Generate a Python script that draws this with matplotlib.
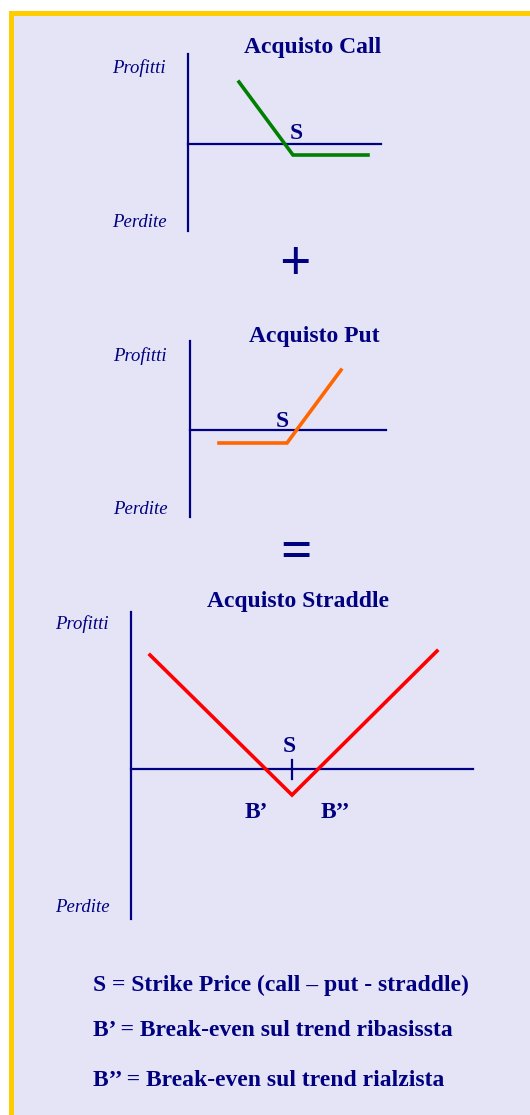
import matplotlib
matplotlib.use("Agg")
import matplotlib.pyplot as plt
from matplotlib.patches import Rectangle

# payoff data (arbitrary price / profit units, origin = axes crossing)
call_price = [51, 105, 180]
call_payoff = [62, -11, -11]
put_price = [29, 97, 151]
put_payoff = [-13, -13, 60]
straddle_price = [19, 161, 306]
straddle_payoff = [114, -26, 118]
strike_straddle = 161

titles = ["Acquisto Call", "Acquisto Put", "Acquisto Straddle"]
legend_lines = ["S = Strike Price (call \u2013 put - straddle)",
                "B\u2019 = Break-even sul trend ribasissta",
                "B\u2019\u2019 = Break-even sul trend rialzista"]

NAVY = "#000080"
BG = "#E4E4F6"
YELLOW = "#FFCC00"
W, H = 530, 1115

plt.rcParams["font.family"] = ["Liberation Serif", "DejaVu Serif"]

fig = plt.figure(figsize=(W / 100, H / 100), dpi=100)
fig.patch.set_facecolor("white")

# background axes in pixel coordinates
bg = fig.add_axes([0, 0, 1, 1])
bg.set_xlim(0, W)
bg.set_ylim(H, 0)
bg.axis("off")
bg.add_patch(Rectangle((10.5, 12.5), 600, 1200, facecolor=BG,
                       edgecolor=YELLOW, lw=3.6))


def panel(box, xlim, ylim):
    l, t, r, b = box
    ax = fig.add_axes([l / W, 1 - b / H, (r - l) / W, (b - t) / H])
    ax.set_xlim(*xlim)
    ax.set_ylim(*ylim)
    ax.axis("off")
    ax.axvline(0, color=NAVY, lw=1.6, clip_on=False)
    ax.axhline(0, color=NAVY, lw=1.6, clip_on=False)
    return ax


def bold(x, y, s, **kw):
    bg.text(x, y, s, color=NAVY, fontsize=17, fontweight="bold",
            va="baseline", **kw)


def pl_labels(x, ytop, ybot):
    bg.text(x, ytop, "Profitti", color=NAVY, fontsize=13.5,
            style="italic", va="baseline")
    bg.text(x, ybot, "Perdite", color=NAVY, fontsize=13.5,
            style="italic", va="baseline")


# --- call ---
ax1 = panel((188, 54, 381, 231), (0, 193), (-87, 90))
ax1.plot(call_price, call_payoff, color="#008000", lw=2.6,
         solid_joinstyle="miter")
bold(313, 53, titles[0], ha="center")
bold(296, 139, "S", ha="center")
pl_labels(112, 73, 227)
bg.text(295, 260, "+", color=NAVY, fontsize=40, fontweight="bold",
        ha="center", va="center_baseline")

# --- put ---
ax2 = panel((190, 341, 386, 517), (0, 196), (-87, 89))
ax2.plot(put_price, put_payoff, color="#FF6600", lw=2.6,
         solid_joinstyle="miter")
bold(314, 342, titles[1], ha="center")
bold(282, 427, "S", ha="center")
pl_labels(113, 361, 514)
bg.text(296, 548, "=", color=NAVY, fontsize=40, fontweight="bold",
        ha="center", va="center_baseline")

# --- straddle ---
ax3 = panel((131, 612, 473, 919), (0, 342), (-150, 157))
ax3.plot(straddle_price, straddle_payoff, color="#FF0000", lw=2.6,
         solid_joinstyle="miter")
ax3.plot([strike_straddle, strike_straddle], [9, -10], color=NAVY, lw=1.6)
bold(298, 607, titles[2], ha="center")
bold(289, 752, "S", ha="center")
bold(245, 818, "B\u2019")
bold(321, 818, "B\u2019\u2019")
pl_labels(55, 629, 912)

# --- legend text ---
for yb, line in zip([991, 1036, 1086], legend_lines):
    bold(93, yb, line)

fig.savefig("out.png", dpi=100, facecolor="white")
